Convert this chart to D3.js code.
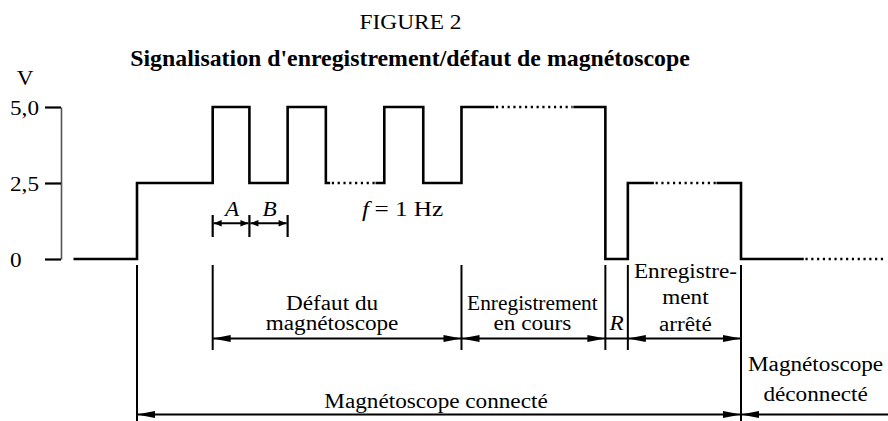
<!DOCTYPE html>
<html>
<head>
<meta charset="utf-8">
<script src="https://cdn.jsdelivr.net/npm/d3@7"></script>
<style>
  html, body { margin: 0; padding: 0; background: #fff; }
  svg { display: block; }
  text { font-family: "Liberation Serif", "Times New Roman", Times, serif; fill: #000; }
</style>
</head>
<body>
<svg id="chart" width="888" height="421"></svg>
<script>
// ---------------- data ----------------
const figureLabel = "FIGURE 2";
const titleText = "Signalisation d'enregistrement/défaut de magnétoscope";
const yUnit = "V";
const yTicks = [0, 2.5, 5];
const yTickLabels = ["0", "2,5", "5,0"];

// waveform: time (s, t=0 when the recorder is connected), level (V)
const waveSolid = [
  [[-0.83, 0], [0, 2.5], [1.01, 5], [1.5, 2.5], [2.01, 5], [2.52, 2.5], [2.56, 2.5]],
  [[3.2, 2.5], [3.3, 5], [3.82, 2.5], [4.33, 5], [4.75, 5]],
  [[5.84, 5], [6.25, 0], [6.55, 2.5], [6.88, 2.5]],
  [[7.75, 2.5], [8.06, 0], [8.88, 0]]
];
// dotted continuation: [t start, t end, level]
const waveDotted = [[2.56, 3.2, 2.5], [4.75, 5.84, 5], [6.88, 7.75, 2.5], [8.88, 9.99, 0]];

// event instants and phases
const eventsShort = [1.01, 4.33, 6.25, 6.55];
const eventsLong = [0, 8.06];
const phasesRow1 = [
  { t0: 1.01, t1: 4.33, lines: ["Défaut du", "magnétoscope"], heads: [true, true], dx: -5 },
  { t0: 4.33, t1: 6.25, lines: ["Enregistrement", "en cours"], heads: [true, true], dx: -1, sx: [1.07, 1.16] },
  { t0: 6.25, t1: 6.55, lines: ["R"], heads: [false, false], italic: true, dx: 0 },
  { t0: 6.55, t1: 8.06, lines: ["Enregistre-", "ment", "arrêté"], heads: [true, true], dx: 1 }
];
const phasesRow2 = [
  { t0: 0, t1: 8.06, lines: ["Magnétoscope connecté"], heads: [true, true], dx: -3 },
  { t0: 8.06, t1: 10.05, lines: ["Magnétoscope", "déconnecté"], heads: [true, false], dx: 0 }
];
const pulseParts = [
  { t0: 1.01, t1: 1.5, label: "A" },
  { t0: 1.5, t1: 2.01, label: "B" }
];
const freqItalic = "f";
const freqText = "= 1 Hz";

// ---------------- layout ----------------
const svg = d3.select("#chart");
const SX = 1.16;          // horizontal stretch of the serif text
const FS = 20;

const x = d3.scaleLinear().domain([0, 8.06]).range([137, 741]);
const y = d3.scaleLinear().domain([0, 5]).range([259, 107]);

function label(g, px, py, str, opt = {}) {
  const t = g.append("text")
    .attr("transform", `translate(${px},${py}) scale(${opt.sx ?? SX},1)`)
    .attr("text-anchor", opt.anchor || "middle")
    .style("font-size", (opt.size || FS) + "px")
    .style("font-weight", opt.bold ? "bold" : "normal")
    .style("font-style", opt.italic ? "italic" : "normal")
    .text(str);
  return t;
}

function arrow(g, xa, xb, yy, headA, headB, len, hw) {
  g.append("line").attr("x1", xa).attr("x2", xb).attr("y1", yy).attr("y2", yy)
    .attr("stroke", "#000").attr("stroke-width", 2);
  if (headA) g.append("path")
    .attr("d", `M${xa},${yy}L${xa + len},${yy - hw}L${xa + len},${yy + hw}Z`).attr("fill", "#000");
  if (headB) g.append("path")
    .attr("d", `M${xb},${yy}L${xb - len},${yy - hw}L${xb - len},${yy + hw}Z`).attr("fill", "#000");
}

// titles
label(svg, 410.5, 29, figureLabel, { size: 20.5, sx: 1.14 });
label(svg, 410, 66, titleText, { size: 23.6, sx: 1.01, bold: true });

// y axis
const axisX = 61;
const axis = d3.axisLeft(y).tickValues(yTicks).tickSize(16).tickSizeOuter(0)
  .tickFormat((d, i) => yTickLabels[i]);
const ga = svg.append("g").attr("transform", `translate(${axisX},0)`).call(axis);
ga.select(".domain").attr("stroke", "#555").attr("stroke-width", 1.6);
ga.selectAll(".tick line").attr("stroke", "#000").attr("stroke-width", 2.2);
ga.selectAll(".tick text").remove();
yTicks.forEach((v, i) => {
  label(svg, 10, y(v) + 8, yTickLabels[i], { anchor: "start" });
});
label(svg, 25, 85, yUnit);

// waveform
const line = d3.line().x(d => x(d[0])).y(d => y(d[1])).curve(d3.curveStepAfter);
svg.append("g").selectAll("path").data(waveSolid).join("path")
  .attr("d", line).attr("fill", "none").attr("stroke", "#000")
  .attr("stroke-width", 2.6).attr("stroke-linejoin", "miter").attr("stroke-linecap", "square");
svg.append("g").selectAll("line").data(waveDotted).join("line")
  .attr("x1", d => x(d[0]) + 3).attr("x2", d => x(d[1]) - 2)
  .attr("y1", d => y(d[2])).attr("y2", d => y(d[2]))
  .attr("stroke", "#000").attr("stroke-width", 2.4).attr("stroke-dasharray", "2.2,3.6");

// extension lines
const ge = svg.append("g").attr("stroke", "#000").attr("stroke-width", 2);
eventsShort.forEach(t => ge.append("line").attr("x1", x(t)).attr("x2", x(t)).attr("y1", 265).attr("y2", 350));
eventsLong.forEach(t => ge.append("line").attr("x1", x(t)).attr("x2", x(t)).attr("y1", 265).attr("y2", 421));

// A / B pulse timing
const gp = svg.append("g");
[pulseParts[0].t0, pulseParts[0].t1, pulseParts[1].t1].forEach(t =>
  gp.append("line").attr("x1", x(t)).attr("x2", x(t)).attr("y1", 215).attr("y2", 237)
    .attr("stroke", "#000").attr("stroke-width", 2.2));
pulseParts.forEach(p => {
  arrow(gp, x(p.t0) + 1, x(p.t1) - 1, 223.3, true, true, 8, 3.2);
  label(gp, (x(p.t0) + x(p.t1)) / 2 + 1, 216, p.label, { italic: true });
});
const ft = svg.append("text")
  .attr("transform", `translate(362,216) scale(1.2,1)`)
  .style("font-size", "21px");
ft.append("tspan").style("font-style", "italic").text(freqItalic);
ft.append("tspan").attr("dx", 4.5).text(freqText);

// phase rows
const g1 = svg.append("g");
const row1Y = 338.5;
const row1Base = {
  2: [310, 330],
  1: [330],
  3: [278, 304, 331]
};
phasesRow1.forEach(p => {
  const xa = x(p.t0), xb = x(p.t1);
  arrow(g1, xa, xb, row1Y, p.heads[0], p.heads[1], 18, 3.6);
  const bases = row1Base[p.lines.length];
  p.lines.forEach((s, i) => label(g1, (xa + xb) / 2 + p.dx, bases[i], s,
    { italic: p.italic, sx: p.sx ? p.sx[i] : SX }));
});

const g2 = svg.append("g");
const row2Y = 414.5;
const row2Base = { 1: [408], 2: [371, 401] };
phasesRow2.forEach(p => {
  const xa = x(p.t0), xb = x(p.t1);
  arrow(g2, xa, xb, row2Y, p.heads[0], p.heads[1], 18, 3.6);
  const bases = row2Base[p.lines.length];
  p.lines.forEach((s, i) => label(g2, (xa + xb) / 2 + p.dx, bases[i], s));
});
</script>
</body>
</html>
